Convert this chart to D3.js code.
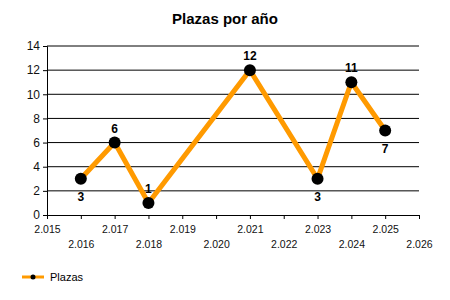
<!DOCTYPE html>
<html>
<head>
<meta charset="utf-8">
<script src="https://cdn.jsdelivr.net/npm/d3@7"></script>
<style>
  body { margin: 0; background: #fff; }
  text { font-family: "Liberation Sans", Arial, sans-serif; }
</style>
</head>
<body>
<svg id="chart" width="450" height="300"></svg>
<script>
const years = [2016, 2017, 2018, 2021, 2023, 2024, 2025];
const plazas = [3, 6, 1, 12, 3, 11, 7];
const xTicks = d3.range(2015, 2027);
const yTicks = [0, 2, 4, 6, 8, 10, 12, 14];
const seriesName = "Plazas";
const title = "Plazas por año";

const labelBelow = [true, false, false, false, true, false, true];

const width = 450, height = 300;
const margin = { top: 46, right: 31, bottom: 85, left: 47 };

const svg = d3.select("#chart");
const fmt = d => d3.format("d")(d).replace(/(\d)(\d{3})$/, "$1.$2");

const x = d3.scaleLinear()
  .domain([2015, 2026])
  .range([margin.left, width - margin.right]);

const y = d3.scaleLinear()
  .domain([0, 14])
  .range([height - margin.bottom, margin.top]);

// title
svg.append("text")
  .attr("x", 225)
  .attr("y", 24)
  .attr("text-anchor", "middle")
  .attr("font-size", 15)
  .attr("font-weight", "bold")
  .attr("fill", "#000")
  .text(title);

// grid lines
svg.append("g")
  .selectAll("line")
  .data(yTicks.filter(d => d > 0))
  .join("line")
  .attr("x1", x(2015))
  .attr("x2", x(2026))
  .attr("y1", d => y(d))
  .attr("y2", d => y(d))
  .attr("stroke", "#000")
  .attr("stroke-width", 1);

// y axis
const yAxis = svg.append("g")
  .attr("transform", `translate(${margin.left},0)`)
  .call(d3.axisLeft(y).tickValues(yTicks).tickSize(4).tickPadding(3).tickFormat(d3.format("d")));
yAxis.select(".domain").attr("stroke", "#000");
yAxis.selectAll(".tick line").attr("stroke", "#000");
yAxis.selectAll(".tick text")
  .attr("font-size", 12)
  .attr("fill", "#111")
  .style("font-family", "'Liberation Sans', Arial, sans-serif");

// x axis
const xAxis = svg.append("g")
  .attr("transform", `translate(0,${y(0)})`)
  .call(d3.axisBottom(x).tickValues(xTicks).tickSize(4).tickFormat(fmt));
xAxis.select(".domain").attr("stroke", "#000");
xAxis.selectAll(".tick line").attr("stroke", "#000");
xAxis.selectAll(".tick text")
  .attr("font-size", 10.5)
  .attr("fill", "#111")
  .attr("y", (d, i) => i % 2 === 0 ? 11 : 26)
  .style("font-family", "'Liberation Sans', Arial, sans-serif");

// line
const pts = years.map((yr, i) => ({ year: yr, value: plazas[i], below: labelBelow[i] }));

const line = d3.line()
  .x(d => x(d.year))
  .y(d => y(d.value));

svg.append("path")
  .datum(pts)
  .attr("fill", "none")
  .attr("stroke", "#FF9A00")
  .attr("stroke-width", 5)
  .attr("stroke-linejoin", "miter")
  .attr("d", line);

svg.append("g")
  .selectAll("circle")
  .data(pts)
  .join("circle")
  .attr("cx", d => x(d.year))
  .attr("cy", d => y(d.value))
  .attr("r", 6)
  .attr("fill", "#000");

svg.append("g")
  .selectAll("text")
  .data(pts)
  .join("text")
  .attr("x", d => x(d.year))
  .attr("y", d => y(d.value) + (d.below ? 22 : -10))
  .attr("text-anchor", "middle")
  .attr("font-size", 12)
  .attr("font-weight", "bold")
  .attr("fill", "#000")
  .text(d => d.value);

// legend
const lg = svg.append("g").attr("transform", "translate(22,277)");
lg.append("line")
  .attr("x1", 0).attr("x2", 22)
  .attr("stroke", "#FF9A00")
  .attr("stroke-width", 3);
lg.append("circle").attr("cx", 11).attr("r", 2.5).attr("fill", "#000");
lg.append("text")
  .attr("x", 28)
  .attr("y", 4)
  .attr("font-size", 11)
  .attr("fill", "#000")
  .text(seriesName);
</script>
</body>
</html>
